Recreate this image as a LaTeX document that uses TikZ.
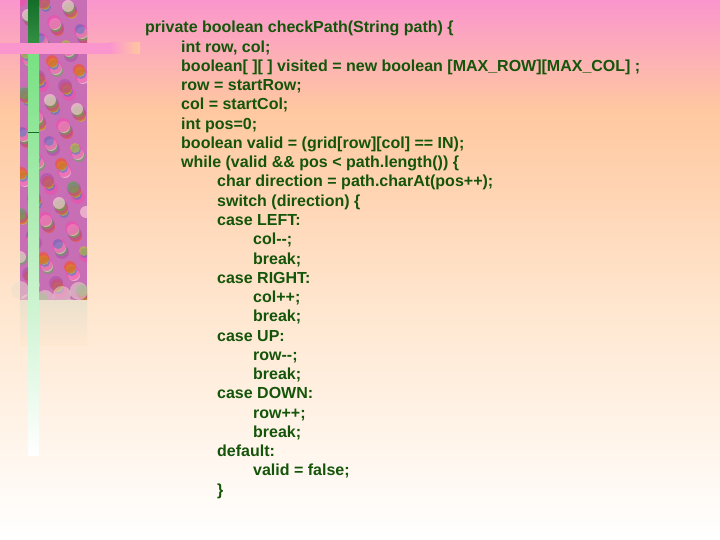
\documentclass[tikz,border=0pt]{standalone}
\usepackage{fontspec}
\setmainfont{Liberation Sans}
\definecolor{bgA}{RGB}{250,150,205}
\definecolor{bgB}{RGB}{255,200,160}
\definecolor{bgC}{RGB}{255,232,210}
\definecolor{txt}{RGB}{20,85,10}
\definecolor{barD}{RGB}{20,110,40}
\definecolor{barG}{RGB}{120,225,130}
\definecolor{barP}{RGB}{250,150,205}
\definecolor{dust}{RGB}{235,225,205}
\definecolor{stripbase}{RGB}{200,110,180}
\begin{document}
\begin{tikzpicture}[x=1pt,y=-1pt,
  code/.style={anchor=base west,inner sep=0pt,text=txt,font=\bfseries\fontsize{16}{19}\selectfont}]
\useasboundingbox (0,0) rectangle (720,540);
\shade[top color=bgA,bottom color=bgB] (0,0) rectangle (720,110);
\shade[top color=bgB,bottom color=bgC] (0,110) rectangle (720,320);
\shade[top color=bgC,bottom color=white] (0,320) rectangle (720,540);
% decorative strip
\begin{scope}
\clip (20,0) rectangle (87,300);
\fill[stripbase] (20,0) rectangle (87,300);
\foreach \i in {0,...,200}{
  \pgfmathsetmacro\xx{20+mod(\i*37,67)}
  \pgfmathsetmacro\yy{mod(\i*71,300)}
  \pgfmathtruncatemacro\cc{mod(\i,7)}
  \ifcase\cc\relax
    \fill[magenta!70,opacity=.6] (\xx,\yy) circle (7);
  \or\fill[green!60!black!70,opacity=.5] (\xx,\yy) circle (6);
  \or\fill[orange!60!red,opacity=.5] (\xx,\yy) circle (6);
  \or\fill[cyan!60!blue,opacity=.4] (\xx,\yy) circle (5);
  \or\fill[pink!60!white,opacity=.6] (\xx,\yy) circle (6);
  \or\fill[violet!70,opacity=.5] (\xx,\yy) circle (7);
  \else\fill[yellow!70!green,opacity=.5] (\xx,\yy) circle (5);
  \fi}
\end{scope}
\foreach \k in {0,...,7}{
  \fill[dust,opacity=.5] (20+\k*8.4,{290+mod(\k*13,30)}) circle (9);}
\shade[top color=dust,bottom color=bgC] (20,300) rectangle (87,345);
\shade[top color=barD,bottom color=barD!70!barG] (28,0) rectangle (39,43);
\shade[top color=barG,bottom color=white] (28,54) rectangle (39,455);
\draw[barD,line width=0.6] (28,132) -- (39,132);
\fill[barP] (0,43) rectangle (110,54);
\shade[left color=barP,right color=bgB] (110,43) rectangle (140,54);
\node[code] (l1) at (145,33) {private boolean checkPath(String path) \{};
\node[code] (l2) at (181,52.25) {int row, col;};
\node[code] (l3) at (181,71.5) {boolean[ ][ ] visited = new boolean [MAX\_ROW][MAX\_COL] ;};
\node[code] (l4) at (181,90.75) {row = startRow;};
\node[code] (l5) at (181,110) {col = startCol;};
\node[code] (l6) at (181,129.25) {int pos=0;};
\node[code] (l7) at (181,148.5) {boolean valid = (grid[row][col] == IN);};
\node[code] (l8) at (181,167.75) {while (valid \&\& pos < path.length()) \{};
\node[code] (l9) at (217,187) {char direction = path.charAt(pos++);};
\node[code] (l10) at (217,206.25) {switch (direction) \{};
\node[code] (l11) at (217,225.5) {case LEFT:};
\node[code] (l12) at (253,244.75) {col-{}-;};
\node[code] (l13) at (253,264) {break;};
\node[code] (l14) at (217,283.25) {case RIGHT:};
\node[code] (l15) at (253,302.5) {col++;};
\node[code] (l16) at (253,321.75) {break;};
\node[code] (l17) at (217,341) {case UP:};
\node[code] (l18) at (253,360.25) {row-{}-;};
\node[code] (l19) at (253,379.5) {break;};
\node[code] (l20) at (217,398.75) {case DOWN:};
\node[code] (l21) at (253,418) {row++;};
\node[code] (l22) at (253,437.25) {break;};
\node[code] (l23) at (217,456.5) {default:};
\node[code] (l24) at (253,475.75) {valid = false;};
\node[code] (l25) at (217,495) {\}};
\end{tikzpicture}
\end{document}
